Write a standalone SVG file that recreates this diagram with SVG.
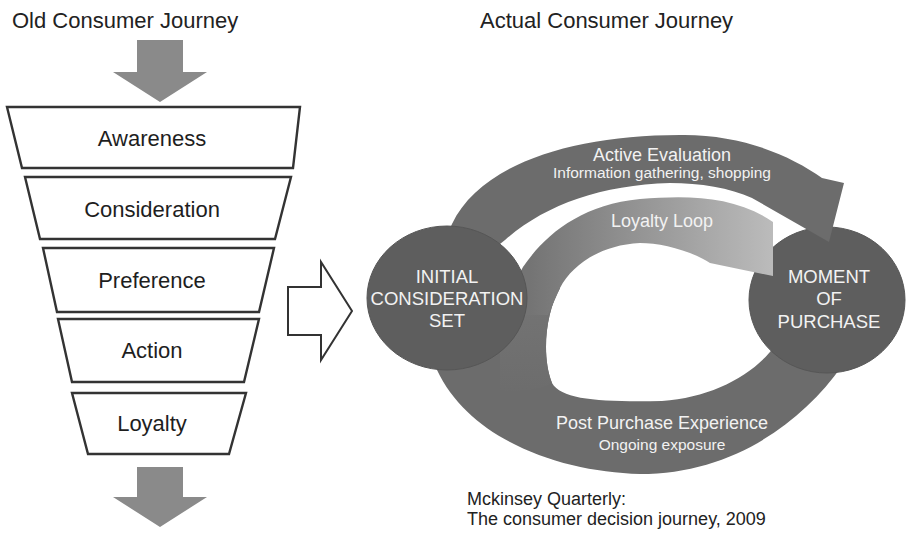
<svg xmlns="http://www.w3.org/2000/svg" width="906" height="538" viewBox="0 0 906 538">
  <style>
    .title { font-family: "Liberation Sans", Arial, sans-serif; font-size: 22px; fill: #222; }
    .stage { fill: #fff; stroke: #333; stroke-width: 2.4; stroke-linejoin: miter; }
    .stage-label { font-family: "Liberation Sans", Arial, sans-serif; font-size: 22px; fill: #1e1e1e; text-anchor: middle; }
    .flow { fill: #8a8a8a; }
    .hollow { fill: #fff; stroke: #333; stroke-width: 2; stroke-linejoin: miter; }
    .band { fill: #6c6c6c; }
    .hub { fill: #5e5e5e; stroke: #565656; stroke-width: 1; }
    .hub-label { font-family: "Liberation Sans", Arial, sans-serif; font-size: 18.5px; fill: #f2f2f2; text-anchor: middle; }
    .band-title { font-family: "Liberation Sans", Arial, sans-serif; font-size: 18px; fill: #f2f2f2; text-anchor: middle; }
    .band-sub { font-family: "Liberation Sans", Arial, sans-serif; font-size: 15.5px; fill: #f2f2f2; text-anchor: middle; }
    .source { font-family: "Liberation Sans", Arial, sans-serif; font-size: 18px; fill: #222; }
  </style>
  <defs>
    <linearGradient id="loyaltyShade" gradientUnits="userSpaceOnUse" x1="530" y1="0" x2="775" y2="0">
      <stop offset="0" stop-color="#747474"/>
      <stop offset="1" stop-color="#bcbcbc"/>
    </linearGradient>
    <linearGradient id="returnShade" gradientUnits="userSpaceOnUse" x1="0" y1="270" x2="0" y2="400">
      <stop offset="0" stop-color="#767676"/>
      <stop offset="1" stop-color="#6c6c6c"/>
    </linearGradient>
  </defs>

  <rect width="906" height="538" fill="#fff"/>

  <!-- Left: traditional funnel -->
  <text class="title" x="12" y="28">Old Consumer Journey</text>
  <polygon class="flow" points="137,40 183,40 183,72 207,72 160,102 113,72 137,72"/>

  <g id="awareness">
    <polygon class="stage" points="7,107 300,107 293,168 22,168"/>
    <text class="stage-label" x="152" y="146">Awareness</text>
  </g>
  <g id="consideration">
    <polygon class="stage" points="25,177 291,177 275,239 40,239"/>
    <text class="stage-label" x="152" y="217">Consideration</text>
  </g>
  <g id="preference">
    <polygon class="stage" points="43,248 274,248 259,312 57,312"/>
    <text class="stage-label" x="152" y="288">Preference</text>
  </g>
  <g id="action">
    <polygon class="stage" points="58,319 259,319 244,382 72,382"/>
    <text class="stage-label" x="152" y="358">Action</text>
  </g>
  <g id="loyalty">
    <polygon class="stage" points="72,393 246,393 229,454 88,454"/>
    <text class="stage-label" x="152" y="431">Loyalty</text>
  </g>

  <polygon class="flow" points="137,467 183,467 183,497 207,497 160,527 113,497 137,497"/>

  <!-- Transition arrow -->
  <polygon class="hollow" points="288,287 321,287 321,262 352,311 321,360 321,335 288,335"/>

  <!-- Right: decision loop -->
  <text class="title" x="480" y="28">Actual Consumer Journey</text>

  <g id="connectors">
    <!-- post purchase experience band, wrapping back up past the initial set -->
    <path id="post-purchase" class="band" d="M495 270 L560 288 C546 312 541 355 552 383 C562 400 600 402 662 401 C712 397 752 376 775 346 L805 320 L842 366 C800 425 730 474 640 474 C560 472 470 440 437 370 L430 330 Z"/>
    <!-- lighter return strip between the initial set and the loop interior -->
    <path fill="url(#returnShade)" d="M500 270 L560 288 C546 312 541 355 552 383 C540 390 520 392 500 390 Z"/>
  </g>

  <g id="moment-of-purchase">
    <ellipse class="hub" cx="827" cy="300" rx="78" ry="73"/>
  </g>

  <g id="journey-arcs">
    <!-- active evaluation band -->
    <path id="active-evaluation" class="band" d="M440 250 L452 224 C480 165 570 135 680 135 C740 134 790 155 822 178 L844 183 L829 242 L752 198 C730 188 700 183 670 183 C600 185 545 205 505 240 L480 260 Z"/>
    <!-- loyalty loop band -->
    <path id="loyalty-loop" fill="url(#loyaltyShade)" d="M505 300 L523 267 C545 235 580 205 640 199 C690 195 735 196 773 222 L773 276 L710 263 C690 250 660 243 640 243 C600 245 572 265 560 288 L548 315 L500 315 Z"/>
  </g>

  <g id="initial-consideration-set">
    <ellipse class="hub" cx="447" cy="298" rx="80" ry="72"/>
    <text class="hub-label" x="447" y="283">INITIAL</text>
    <text class="hub-label" x="447" y="305">CONSIDERATION</text>
    <text class="hub-label" x="447" y="327">SET</text>
  </g>

  <g id="moment-of-purchase-label">
    <text class="hub-label" x="829" y="283">MOMENT</text>
    <text class="hub-label" x="829" y="305">OF</text>
    <text class="hub-label" x="829" y="328">PURCHASE</text>
  </g>

  <g id="band-labels">
    <text class="band-title" x="662" y="161">Active Evaluation</text>
    <text class="band-sub" x="662" y="178">Information gathering, shopping</text>
    <text class="band-title" x="662" y="227">Loyalty Loop</text>
    <text class="band-title" x="662" y="429">Post Purchase Experience</text>
    <text class="band-sub" x="662" y="450">Ongoing exposure</text>
  </g>

  <text class="source" x="467" y="505">Mckinsey Quarterly:</text>
  <text class="source" x="467" y="525">The consumer decision journey, 2009</text>
</svg>
